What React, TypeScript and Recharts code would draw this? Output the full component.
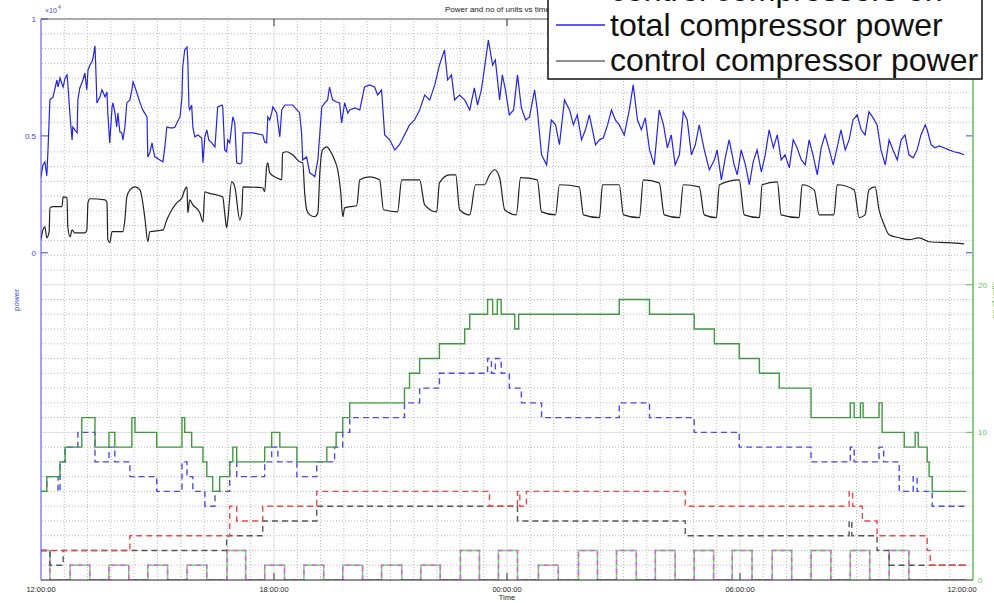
import React from "react";
import { LineChart, Line, XAxis, YAxis, ReferenceLine } from "recharts";

type Pt = [number, number];

// time is hours after 12:00:00
const xTicks = [0, 6, 12, 18, 24];
const xTickLabels = ["12:00:00", "18:00:00", "00:00:00", "06:00:00", "12:00:00"];
const powerTicks = [0, 5000, 10000];
const powerTickLabels = ["0", "0.5", "1"];
const unitTicks = [0, 10, 20];
const legendNames = ["control compressors on", "total compressor power", "control compressor power"];

const totalPower: Pt[] = [
  [0, 3250], [0.05, 3760], [0.1, 3890], [0.15, 3290], [0.18, 4400], [0.23, 6540], [0.31, 6670], [0.41, 7390],
  [0.44, 7090], [0.49, 7480], [0.54, 7220], [0.57, 7090], [0.62, 7480], [0.67, 7610], [0.69, 7260], [0.75, 5810],
  [0.8, 4830], [0.82, 5380], [0.87, 5260], [0.93, 5130], [0.95, 6540], [1.0, 7050], [1.08, 7390], [1.13, 7690],
  [1.18, 6970], [1.21, 7820], [1.26, 8030], [1.31, 8160], [1.34, 8330], [1.39, 8850], [1.41, 7950], [1.44, 6410],
  [1.52, 6670], [1.57, 6970], [1.65, 6670], [1.7, 6880], [1.72, 5980], [1.77, 4700], [1.83, 6240], [1.85, 6410],
  [1.9, 6030], [1.95, 5380], [1.98, 5980], [2.03, 5170], [2.08, 5130], [2.11, 4830], [2.16, 5380], [2.21, 6410],
  [2.29, 6540], [2.34, 6970], [2.37, 7310], [2.42, 7090], [2.47, 6840], [2.55, 6410], [2.62, 6110], [2.73, 5810],
  [2.75, 4100], [2.8, 4270], [2.86, 4700], [2.88, 4490], [2.93, 4100], [2.98, 4060], [3.06, 3970], [3.14, 3890],
  [3.19, 4530], [3.24, 5380], [3.32, 5340], [3.4, 5340], [3.45, 5380], [3.5, 5560], [3.58, 5810], [3.63, 6670],
  [3.65, 7950], [3.7, 8680], [3.76, 8800], [3.78, 8250], [3.81, 6240], [3.83, 6110], [3.88, 6320], [3.91, 5380],
  [3.96, 4960], [4.04, 5040], [4.14, 4910], [4.17, 3850], [4.22, 4960], [4.27, 5260], [4.32, 4830], [4.4, 4700],
  [4.48, 4530], [4.55, 6240], [4.66, 6320], [4.68, 6240], [4.73, 4400], [4.78, 4320], [4.81, 4830], [4.86, 4700],
  [4.94, 5810], [4.99, 5560], [5.04, 3850], [5.12, 3800], [5.17, 3850], [5.2, 5130], [5.45, 5130], [5.71, 5040],
  [5.76, 4740], [5.81, 4700], [5.84, 5810], [5.89, 5680], [5.94, 5980], [5.97, 6240], [6.07, 5980], [6.15, 4960],
  [6.2, 6110], [6.28, 6320], [6.48, 6320], [6.59, 6110], [6.66, 5980], [6.71, 5130], [6.74, 3970], [6.84, 4100],
  [6.92, 3420], [7.0, 3330], [7.05, 3250], [7.13, 3970], [7.23, 6240], [7.31, 6410], [7.38, 6540], [7.43, 7090],
  [7.51, 6540], [7.61, 6450], [7.69, 6410], [7.74, 5560], [7.82, 6410], [7.9, 5980], [7.95, 6110], [8.08, 6200],
  [8.21, 6110], [8.33, 7090], [8.46, 7180], [8.59, 7090], [8.67, 6750], [8.77, 6970], [8.85, 5040], [8.98, 4830],
  [9.11, 4400], [9.23, 4620], [9.36, 5040], [9.49, 5470], [9.62, 5680], [9.75, 6110], [9.88, 6750], [10.01, 6540],
  [10.14, 7180], [10.26, 8030], [10.39, 8680], [10.47, 7390], [10.57, 7610], [10.65, 6540], [10.78, 6750], [10.91, 6540],
  [11.04, 6110], [11.16, 7050], [11.24, 6320], [11.34, 6970], [11.45, 8250], [11.52, 9100], [11.63, 8030], [11.7, 8250],
  [11.81, 6540], [11.88, 7610], [11.96, 6970], [12.06, 5900], [12.17, 6110], [12.27, 7610], [12.37, 6200], [12.48, 5680],
  [12.58, 5810], [12.71, 6970], [12.78, 6110], [12.89, 4190], [13.02, 3760], [13.14, 5680], [13.25, 5470], [13.35, 4620],
  [13.48, 6540], [13.61, 6110], [13.71, 5470], [13.81, 5900], [13.92, 4830], [14.02, 5260], [14.12, 5900], [14.28, 4620],
  [14.38, 4830], [14.48, 4910], [14.59, 5470], [14.69, 6110], [14.79, 5680], [14.89, 5470], [15.02, 5040], [15.15, 6110],
  [15.25, 7180], [15.36, 5680], [15.46, 5260], [15.56, 5770], [15.67, 4400], [15.79, 3760], [15.92, 6110], [16.03, 5470],
  [16.13, 4490], [16.23, 5040], [16.33, 3760], [16.44, 4190], [16.54, 6030], [16.64, 5680], [16.75, 4190], [16.85, 4620],
  [16.95, 5470], [17.08, 4400], [17.21, 3550], [17.34, 3970], [17.41, 4400], [17.52, 3120], [17.62, 4060], [17.72, 4830],
  [17.85, 3760], [17.93, 3330], [18.03, 4400], [18.14, 3760], [18.24, 2910], [18.34, 3890], [18.44, 4400], [18.55, 3460],
  [18.65, 4190], [18.75, 5260], [18.86, 4490], [18.96, 5040], [19.06, 3970], [19.16, 4190], [19.27, 3630], [19.37, 4830],
  [19.47, 4490], [19.58, 3970], [19.68, 3760], [19.78, 4830], [19.88, 4190], [19.99, 3330], [20.09, 4490], [20.19, 5040],
  [20.3, 4400], [20.4, 3760], [20.5, 4490], [20.6, 5260], [20.71, 4400], [20.81, 4830], [20.91, 5680], [21.02, 5900],
  [21.12, 5260], [21.22, 5040], [21.32, 6030], [21.43, 5770], [21.53, 5470], [21.63, 4400], [21.74, 3760], [21.84, 4830],
  [21.94, 4400], [22.05, 3970], [22.15, 4830], [22.25, 5040], [22.35, 4190], [22.46, 4060], [22.56, 4400], [22.66, 5040],
  [22.77, 5470], [22.82, 5260], [22.92, 4620], [23.02, 4490], [23.13, 4570], [23.25, 4490], [23.38, 4400], [23.51, 4320],
  [23.64, 4270], [23.77, 4190],
];

const controlPower: Pt[] = [
  [0, 560], [0.05, 980], [0.1, 1110], [0.15, 640], [0.21, 900], [0.23, 1920], [0.31, 1970], [0.54, 1970],
  [0.57, 2390], [0.67, 2350], [0.69, 1110], [0.75, 680], [0.8, 980], [0.87, 850], [1.13, 850], [1.18, 980],
  [1.21, 2140], [1.26, 2310], [1.65, 2260], [1.7, 2140], [1.72, 560], [1.77, 430], [1.83, 900], [2.11, 900],
  [2.16, 1410], [2.21, 2390], [2.29, 2690], [2.42, 2820], [2.55, 2690], [2.68, 1410], [2.75, 470], [2.8, 900],
  [3.14, 980], [3.24, 1410], [3.37, 1840], [3.5, 2140], [3.63, 2350], [3.7, 2690], [3.76, 2820], [3.78, 1710],
  [3.83, 2260], [3.91, 2050], [4.09, 1710], [4.17, 1320], [4.22, 2610], [4.3, 2560], [4.68, 2390], [4.73, 1710],
  [4.78, 1070], [4.81, 1410], [4.91, 3030], [4.99, 2820], [5.12, 1410], [5.17, 1710], [5.2, 2820], [5.71, 2780],
  [5.76, 2610], [5.81, 3680], [5.84, 3850], [5.89, 3420], [6.07, 3210], [6.2, 3120], [6.22, 4270], [6.33, 4320],
  [6.48, 4190], [6.66, 3890], [6.74, 3850], [6.79, 2560], [6.84, 1840], [6.92, 1620], [7.05, 1540], [7.13, 1710],
  [7.18, 3420], [7.25, 4400], [7.36, 4530], [7.43, 4400], [7.56, 3970], [7.64, 3550], [7.72, 2560], [7.77, 1540],
  [7.82, 1920], [7.95, 1970], [8.13, 2010], [8.21, 3120], [8.46, 3250], [8.72, 3120], [8.82, 1840], [9.18, 1750],
  [9.29, 3120], [9.75, 3120], [9.88, 2050], [10.19, 1750], [10.26, 2990], [10.52, 3330], [10.68, 3330], [10.78, 1840],
  [11.04, 1620], [11.19, 2910], [11.42, 2910], [11.55, 3330], [11.68, 3550], [11.81, 3210], [11.94, 1840], [12.24, 1620],
  [12.35, 3210], [12.78, 3120], [12.89, 1750], [13.25, 1620], [13.35, 2910], [13.86, 2820], [13.97, 1620], [14.38, 1500],
  [14.46, 2910], [14.89, 2910], [15.0, 1620], [15.41, 1500], [15.51, 3120], [15.92, 2990], [16.05, 1620], [16.44, 1500],
  [16.54, 2910], [16.95, 2820], [17.08, 1620], [17.39, 1500], [17.47, 2910], [17.98, 3120], [18.11, 1620], [18.5, 1500],
  [18.57, 2910], [18.96, 3030], [19.06, 1620], [19.52, 1500], [19.6, 2910], [19.91, 2690], [20.04, 1620], [20.42, 1620],
  [20.5, 2910], [20.94, 2690], [21.07, 1500], [21.22, 1620], [21.32, 2690], [21.48, 2820], [21.58, 1840], [21.71, 1200],
  [21.84, 770], [22.1, 640], [22.35, 560], [22.61, 640], [22.87, 470], [23.38, 430], [23.77, 380],
];

const unitsAvailable: Pt[] = [
  [0, 6], [0.15, 7], [0.49, 8], [0.62, 9], [1.05, 11], [1.39, 9], [1.75, 10], [1.9, 9], [2.34, 11], [2.42, 10],
  [2.98, 9], [3.63, 11], [3.7, 10], [3.88, 9], [4.17, 8], [4.27, 7], [4.42, 6], [4.6, 7], [4.86, 8], [4.94, 9],
  [5.04, 8], [5.76, 9], [5.94, 10], [6.15, 9], [6.59, 8], [7.36, 9], [7.6, 10], [7.77, 11], [7.95, 12], [9.36, 13],
  [9.49, 14], [9.75, 15], [10.26, 16], [10.91, 17], [11.04, 18], [11.5, 19], [11.63, 18], [11.75, 19], [11.85, 18],
  [12.2, 17], [12.3, 18], [14.89, 19], [15.67, 18], [16.82, 17], [17.34, 16], [17.98, 15], [18.5, 14], [19.01, 13],
  [19.83, 11], [20.84, 12], [20.94, 11], [21.1, 12], [21.17, 11], [21.58, 12], [21.66, 10], [22.23, 9], [22.51, 10],
  [22.59, 9], [22.82, 8], [22.87, 7], [22.95, 6], [23.82, 6],
];

const unitsOn: Pt[] = [
  [0, 6], [0.15, 7], [0.44, 6], [0.49, 8], [0.62, 9], [0.95, 10], [1.39, 8], [1.75, 9], [1.9, 8], [2.29, 7],
  [2.98, 6], [3.63, 8], [3.76, 7], [3.91, 6], [4.22, 5], [4.48, 6], [4.86, 8], [5.04, 7], [5.76, 8], [5.94, 9],
  [6.1, 8], [6.59, 7], [7.1, 8], [7.56, 9], [7.77, 10], [7.95, 11], [9.36, 12], [9.75, 13], [10.26, 14], [11.5, 15],
  [11.6, 14], [11.7, 15], [11.85, 14], [12.06, 13], [12.37, 12], [12.89, 11], [14.89, 12], [15.67, 11], [16.82, 10],
  [17.98, 9], [19.83, 8], [20.84, 9], [20.94, 8], [21.58, 9], [21.7, 8], [22.1, 6], [22.46, 7], [22.56, 6],
  [22.95, 5], [23.82, 5],
];

const unitsRed: Pt[] = [
  [0, 2], [2.29, 3], [4.86, 5], [5.04, 4], [5.71, 5], [7.1, 6], [11.55, 5], [12.27, 6], [12.33, 5], [12.5, 6],
  [16.59, 5], [20.81, 6], [20.9, 5], [21.15, 4], [21.53, 3], [22.82, 2], [22.9, 1], [23.82, 1],
];

const unitsBlack: Pt[] = [
  [0, 2], [0.23, 1], [0.57, 2], [4.78, 3], [5.71, 4], [7.1, 5], [12.27, 4], [16.59, 3], [20.81, 4], [20.88, 3],
  [21.53, 2], [21.84, 1], [23.82, 1],
];

const controlOn: Pt[] = [
  [0, 2], [0.23, 0], [0.75, 1], [1.26, 0], [1.75, 1], [2.26, 0], [2.75, 1], [3.26, 0], [3.76, 1], [4.27, 0],
  [4.79, 2], [5.27, 0], [5.76, 1], [6.27, 0], [6.77, 1], [7.28, 0], [7.77, 1], [8.28, 0], [8.77, 1], [9.29, 0],
  [9.78, 1], [10.28, 0], [10.8, 2], [11.29, 0], [11.78, 2], [12.27, 0], [12.81, 1], [13.32, 0], [13.84, 2], [14.33, 0],
  [14.82, 2], [15.33, 0], [15.82, 2], [16.33, 0], [16.82, 2], [17.32, 0], [17.8, 2], [18.31, 0], [18.83, 2], [19.33, 0],
  [19.83, 2], [20.34, 0], [20.84, 2], [21.34, 0], [21.84, 2], [22.35, 0], [23.82, 0],
];

const rows = (p: Pt[]) => p.map(([t, v]) => ({ t, v }));

const FONT = '"Liberation Sans", Arial, Helvetica, sans-serif';
const AX_BLUE = "#4646dc";
const AX_GREEN = "#62bf62";
const GRID = "#bbbbbb";

const minorX: number[] = [];
for (let i = 1; i < 40; i++) if (i % 10 !== 0) minorX.push(+(i * 0.6).toFixed(2));
const minorY: number[] = [];
for (let i = 1; i < 38; i++) if (i % 10 !== 0) minorY.push(i);

const XTick = (p: any) => {
  const i = xTicks.indexOf(p.payload.value);
  const last = i === xTicks.length - 1;
  return (
    <g>
      {i > 0 && !last && <line x1={p.x} x2={p.x} y1={p.y} y2={p.y - 7} stroke="#333" />}
      <text x={last ? p.x - 11 : p.x} y={p.y + 12} textAnchor="middle" fontSize={7.5} fontFamily={FONT} fill="#222">
        {xTickLabels[i]}
      </text>
    </g>
  );
};

const LeftTick = (p: any) => {
  const i = powerTicks.indexOf(p.payload.value);
  return (
    <g>
      <line x1={p.x} x2={p.x + 7} y1={p.y} y2={p.y} stroke={AX_BLUE} />
      <text x={p.x - 5} y={p.y + 3} textAnchor="end" fontSize={8} fontFamily={FONT} fill={AX_BLUE}>
        {powerTickLabels[i]}
      </text>
    </g>
  );
};

const RightTick = (p: any) => (
  <g>
    <line x1={p.x - 7} x2={p.x} y1={p.y} y2={p.y} stroke={AX_GREEN} />
    <text x={p.x + 5} y={p.y + 3} textAnchor="start" fontSize={8} fontFamily={FONT} fill={AX_GREEN}>
      {p.payload.value}
    </text>
  </g>
);

export default function App() {
  return (
    <div style={{ position: "absolute", left: 0, top: 0, width: 994, height: 603, overflow: "hidden", background: "#fff" }}>
      <LineChart width={994} height={603} margin={{ top: 19, right: 0, bottom: 0, left: 0 }}>
        <XAxis
          dataKey="t"
          type="number"
          domain={[0, 24]}
          ticks={xTicks}
          interval={0}
          allowDataOverflow
          height={23}
          tickSize={0}
          tickMargin={0}
          tickLine={false}
          axisLine={{ stroke: "#222" }}
          tick={(p: any) => <XTick {...p} />}
        />
        <YAxis
          yAxisId="left"
          width={41}
          domain={[-14000, 10000]}
          ticks={powerTicks}
          interval={0}
          allowDataOverflow
          tickSize={0}
          tickMargin={0}
          tickLine={false}
          axisLine={{ stroke: AX_BLUE }}
          tick={(p: any) => <LeftTick {...p} />}
        />
        <YAxis
          yAxisId="right"
          orientation="right"
          width={21}
          domain={[0, 38]}
          ticks={unitTicks}
          interval={0}
          allowDataOverflow
          tickSize={0}
          tickMargin={0}
          tickLine={false}
          axisLine={{ stroke: AX_GREEN, strokeWidth: 1.5 }}
          tick={(p: any) => <RightTick {...p} />}
        />
        {minorX.map((t) => (
          <ReferenceLine key={"vx" + t} yAxisId="right" x={t} stroke={GRID} strokeDasharray="1 2" />
        ))}
        {minorY.map((v) => (
          <ReferenceLine key={"hy" + v} yAxisId="right" y={v} stroke={GRID} strokeDasharray="1 2" />
        ))}
        {[6, 12, 18].map((t) => (
          <ReferenceLine key={"VX" + t} yAxisId="right" x={t} stroke="#dedede" />
        ))}
        {[10, 20].map((v) => (
          <ReferenceLine key={"HY" + v} yAxisId="right" y={v} stroke="#dedede" />
        ))}
        <ReferenceLine yAxisId="left" y={10000} stroke="#555" />
        {[6, 12, 18].map((t) => (
          <ReferenceLine key={"tt" + t} yAxisId="left" segment={[{ x: t, y: 10000 }, { x: t, y: 9700 }]} stroke="#333" />
        ))}
        {powerTicks.map((v) => (
          <ReferenceLine key={"rt" + v} yAxisId="left" segment={[{ x: 23.82, y: v }, { x: 24, y: v }]} stroke={AX_BLUE} />
        ))}

        <Line yAxisId="right" data={rows(controlOn)} dataKey="v" type="stepAfter" stroke="#66dd66" strokeWidth={1.5} dot={false} isAnimationActive={false} />
        <Line yAxisId="right" data={rows(controlOn)} dataKey="v" type="stepAfter" stroke="#ee55ee" strokeWidth={1.5} strokeDasharray="5 4" dot={false} isAnimationActive={false} />
        <Line yAxisId="right" data={rows(unitsBlack)} dataKey="v" type="stepAfter" stroke="#555" strokeWidth={1.4} strokeDasharray="6 4" dot={false} isAnimationActive={false} />
        <Line yAxisId="right" data={rows(unitsRed)} dataKey="v" type="stepAfter" stroke="#f04848" strokeWidth={1.4} strokeDasharray="6 4" dot={false} isAnimationActive={false} />
        <Line yAxisId="right" data={rows(unitsOn)} dataKey="v" type="stepAfter" stroke="#4a4af0" strokeWidth={1.4} strokeDasharray="6 4" dot={false} isAnimationActive={false} />
        <Line yAxisId="right" data={rows(unitsAvailable)} dataKey="v" type="stepAfter" stroke="#3f9a3f" strokeWidth={1.4} dot={false} isAnimationActive={false} />
        <Line yAxisId="left" data={rows(controlPower)} dataKey="v" type="monotone" stroke="#222" strokeWidth={1.2} dot={false} isAnimationActive={false} />
        <Line yAxisId="left" data={rows(totalPower)} dataKey="v" type="linear" stroke="#2424e6" strokeWidth={1.2} dot={false} isAnimationActive={false} />
      </LineChart>

      <svg width={994} height={603} style={{ position: "absolute", left: 0, top: 0, pointerEvents: "none" }} fontFamily={FONT}>
        <text x={445} y={12} fontSize={8} fill="#222">Power and no of units vs time</text>
        <text x={45} y={13} fontSize={7} fill={AX_BLUE}>×10</text>
        <text x={58} y={9} fontSize={5} fill={AX_BLUE}>4</text>
        <text x={507} y={600} fontSize={7.5} textAnchor="middle" fill="#222">Time</text>
        <text transform="translate(19,300) rotate(-90)" fontSize={8} textAnchor="middle" fill={AX_BLUE}>power</text>
        <text transform="translate(997,300) rotate(-90)" fontSize={8} textAnchor="middle" fill={AX_GREEN}>no of units</text>
        <rect x={548} y={-12} width={434} height={91} fill="#fff" stroke="#111" strokeWidth={1.5} />
        <line x1={556} x2={605} y1={-8} y2={-8} stroke="#555" strokeWidth={1.2} />
        <line x1={556} x2={605} y1={25} y2={25} stroke="#2424e6" strokeWidth={1.4} />
        <line x1={556} x2={605} y1={61} y2={61} stroke="#222" strokeWidth={1.2} />
        {legendNames.map((n, i) => (
          <text key={n} x={610} y={1 + i * 35} fontSize={32} fill="#111">{n}</text>
        ))}
      </svg>
    </div>
  );
}
